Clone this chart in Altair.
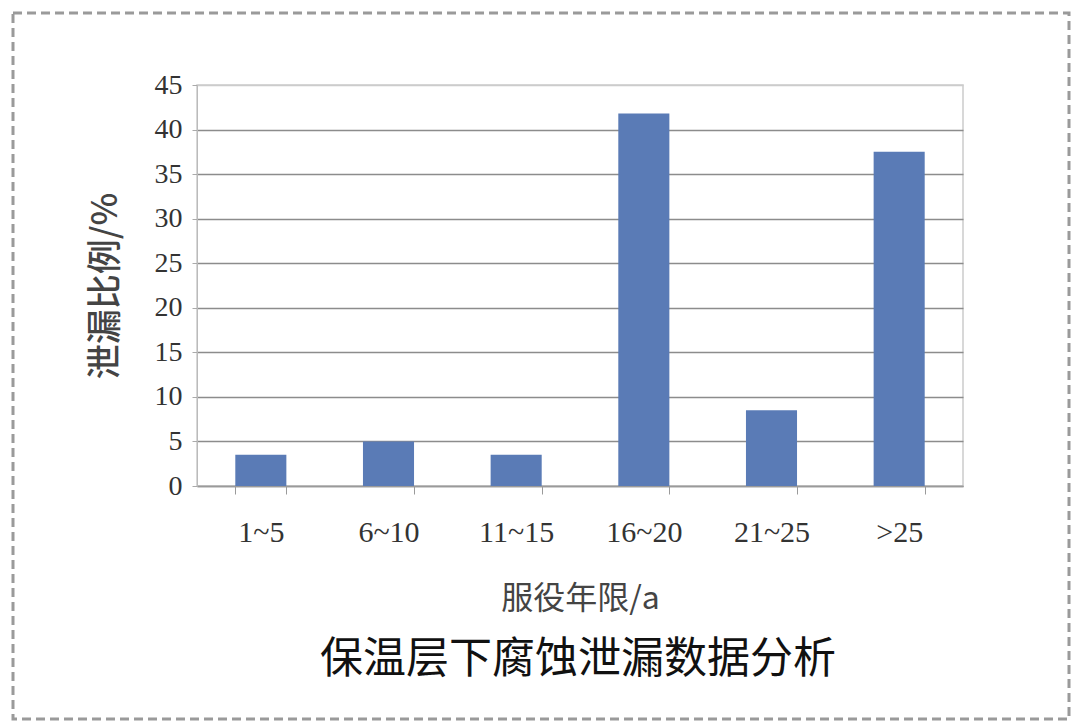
import altair as alt
import pandas as pd

# Service-life groups (years) and share of leaks in each group (%)
categories = ["1~5", "6~10", "11~15", "16~20", "21~25", ">25"]
leak_share = [3.5, 5.0, 3.5, 41.8, 8.5, 37.5]

y_ticks = [0, 5, 10, 15, 20, 25, 30, 35, 40, 45]

main_title = "保温层下腐蚀泄漏数据分析"
x_title = "服役年限/a"
y_title = "泄漏比例/%"

df = pd.DataFrame({"group": categories, "share": leak_share})

W, H = 766, 401
LEFT, TOP = 197, 85

bars = alt.Chart(df).mark_bar(color="#5a7bb6").encode(
    x=alt.X(
        "group:N",
        sort=categories,
        scale=alt.Scale(paddingInner=0.6, paddingOuter=0.3),
        axis=alt.Axis(
            title=x_title,
            labelAngle=0,
            labelFont="Liberation Serif",
            labelFontSize=30,
            labelColor="#333333",
            labelPadding=23,
            tickBand="extent",
            tickSize=8,
            tickColor="#9a9a9a",
            domainColor="#9a9a9a",
            domainWidth=1.5,
            titleFont="Noto Sans CJK SC",
            titleFontSize=32,
            titleFontWeight="normal",
            titleColor="#444444",
            titlePadding=36,
        ),
    ),
    y=alt.Y(
        "share:Q",
        scale=alt.Scale(domain=[0, 45], nice=False),
        axis=alt.Axis(
            title=y_title,
            values=y_ticks,
            labelFont="Liberation Serif",
            labelFontSize=28,
            labelColor="#333333",
            labelPadding=10,
            tickSize=5,
            tickColor="#aaaaaa",
            domainColor="#bbbbbb",
            gridColor={
                "condition": {"test": "datum.value === 45", "value": "#cccccc"},
                "value": "#8c8c8c",
            },
            gridWidth=1.5,
            titleFont="Noto Sans CJK SC",
            titleFontSize=35,
            titleFontWeight=500,
            titleColor="#444444",
            titlePadding=31,
        ),
    ),
)

# Dashed frame around the whole figure
frame = alt.Chart(alt.Data(values=[{}])).mark_rect(
    fill=None, stroke="#9a9a9a", strokeWidth=3, strokeDash=[9, 5], clip=False
).encode(
    x=alt.value(13 - LEFT),
    x2=alt.value(1069 - LEFT),
    y=alt.value(13 - TOP),
    y2=alt.value(719 - TOP),
)

caption = alt.Chart(alt.Data(values=[{"t": main_title}])).mark_text(
    font="Noto Sans CJK SC", fontSize=43, color="#111111", baseline="middle", align="center"
).encode(
    text="t:N",
    x=alt.value(578 - LEFT),
    y=alt.value(660 - TOP),
)

chart = (
    alt.layer(bars, frame, caption)
    .properties(
        width=W,
        height=H,
        padding={"left": LEFT, "top": TOP, "right": 1080 - LEFT - W, "bottom": 728 - TOP - H},
        autosize=alt.AutoSizeParams(type="none"),
        background="white",
    )
    .configure_view(stroke="#cccccc", strokeWidth=1.5)
)

chart.save("out.html", embed_options={"renderer": "svg", "actions": False})
